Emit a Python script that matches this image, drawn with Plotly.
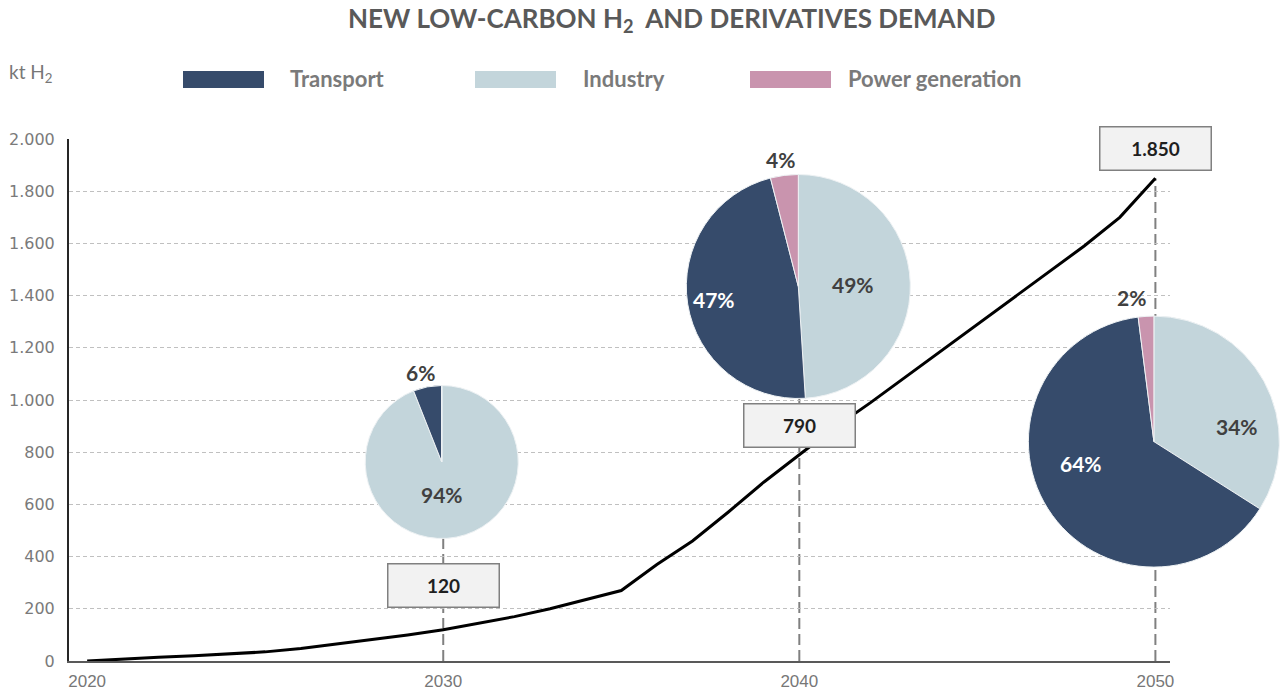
import plotly.graph_objects as go

# ---- data -------------------------------------------------------------
years = list(range(2020, 2051))
demand_kt = [0, 8, 14, 20, 27, 35, 48, 65, 82, 100,
             120, 145, 170, 200, 235, 270, 370, 460, 570, 685,
             790, 895, 990, 1090, 1190, 1290, 1390, 1490, 1590, 1700,
             1850]

segments = ["Industry", "Transport", "Power generation"]
share_years = [2030, 2040, 2050]
industry_share = [94, 49, 34]
transport_share = [6, 47, 64]
power_share = [0, 4, 2]

y_ticks = [0, 200, 400, 600, 800, 1000, 1200, 1400, 1600, 1800, 2000]
y_tick_labels = ["0", "200", "400", "600", "800", "1.000", "1.200",
                 "1.400", "1.600", "1.800", "2.000"]
x_ticks = [2020, 2030, 2040, 2050]
x_tick_labels = ["2020", "2030", "2040", "2050"]

# ---- layout geometry (pixels) ----------------------------------------
W, H = 1280, 697
PLOT_L, PLOT_R, PLOT_T, PLOT_B = 69, 1170, 139, 661
X_RANGE = [2019.49, 2050.41]
Y_RANGE = [0, 2000]

COLORS = {"Transport": "#364b6b", "Industry": "#c3d5db",
          "Power generation": "#c994ae"}
FONT = "Lato, 'Open Sans', sans-serif"
TICK_FONT = "'DejaVu Sans', sans-serif"


def px(x):
    return x / W


def py(y):
    return 1 - y / H


def year_px(year):
    return PLOT_L + (year - X_RANGE[0]) / (X_RANGE[1] - X_RANGE[0]) * (PLOT_R - PLOT_L)


def fmt_thousands(v):
    return f"{v:,}".replace(",", ".")


fig = go.Figure()

# demand curve
fig.add_trace(go.Scatter(
    x=years, y=demand_kt, mode="lines",
    line=dict(color="#000000", width=3),
    hoverinfo="skip", showlegend=False,
))

# pie placement: centre y and radius in pixels, centre x follows the year
pie_geom = [
    dict(cy=462, r=76.5, dx=-1.5),
    dict(cy=286.5, r=112, dx=-1),
    dict(cy=441.6, r=125.5, dx=-1.5),
]
# label offsets from each pie centre (industry, transport, power)
label_offsets = [
    [(0, 32), (-21, -90), None],
    [(55, -2.5), (-84, 12.5), (-18, -127.5)],
    [(83.5, -15.6), (-72.5, 22.4), (-22.5, -143.6)],
]
label_colors = [
    ["#404040", "#404040", "#404040"],
    ["#404040", "#ffffff", "#404040"],
    ["#404040", "#ffffff", "#404040"],
]

shapes = []
annotations = []

for i, yr in enumerate(share_years):
    g = pie_geom[i]
    cx = year_px(yr) + g["dx"]
    cy, r = g["cy"], g["r"]
    vals = [industry_share[i], transport_share[i], power_share[i]]
    fig.add_trace(go.Pie(
        labels=segments, values=vals,
        marker=dict(colors=[COLORS[s] for s in segments],
                    line=dict(color="#eef2f4", width=1)),
        sort=False, direction="clockwise", rotation=0,
        textinfo="none", hoverinfo="label+percent", showlegend=False,
        domain=dict(x=[px(cx - r), px(cx + r)], y=[py(cy + r), py(cy - r)]),
    ))
    for j, v in enumerate(vals):
        off = label_offsets[i][j]
        if v == 0 or off is None:
            continue
        annotations.append(dict(
            x=px(cx + off[0]), y=py(cy + off[1]), xref="paper", yref="paper",
            xanchor="center", yanchor="middle",
            text=f"<b>{v}%</b>", showarrow=False,
            font=dict(family=FONT, size=21, color=label_colors[i][j]),
        ))

    # dashed drop line from the pie / value box down to the axis
    val = demand_kt[years.index(yr)]
    top_paper = py(cy) if yr != 2050 else py(PLOT_B - (val / Y_RANGE[1]) * (PLOT_B - PLOT_T))
    shapes.append(dict(
        type="line", xref="x", yref="paper", x0=yr, x1=yr,
        y0=py(PLOT_B), y1=top_paper,
        line=dict(color="#808080", width=2, dash="11px,5px"), layer="below",
    ))

# value boxes
box_shift = [44, 29, 30]
for i, yr in enumerate(share_years):
    val = demand_kt[years.index(yr)]
    annotations.append(dict(
        x=yr, y=val, xref="x", yref="y", yshift=box_shift[i],
        xanchor="center", yanchor="middle",
        text=f"<b>{fmt_thousands(val)}</b>", showarrow=False,
        font=dict(family=FONT, size=19, color="#1f1f1f"),
        bgcolor="#f2f2f2", bordercolor="#808080", borderwidth=1.5,
        borderpad=2, width=106, height=38, align="center", valign="middle",
    ))

# title and unit
annotations.append(dict(
    x=px(671), y=py(20), xref="paper", yref="paper",
    xanchor="center", yanchor="middle",
    text="<b>NEW LOW-CARBON H<sub>2</sub>  AND DERIVATIVES DEMAND</b>",
    showarrow=False, font=dict(family=FONT, size=26, color="#595959"),
))
annotations.append(dict(
    x=px(7), y=py(73), xref="paper", yref="paper",
    xanchor="left", yanchor="middle",
    text="kt H<sub>2</sub>", showarrow=False,
    font=dict(family=FONT, size=19, color="#777777"),
))

# legend
legend_items = [("Transport", 183, 288), ("Industry", 475, 581),
                ("Power generation", 750, 846)]
for name, x0, tx in legend_items:
    shapes.append(dict(
        type="rect", xref="paper", yref="paper",
        x0=px(x0), x1=px(x0 + 81), y0=py(88), y1=py(71),
        fillcolor=COLORS[name], line=dict(color=COLORS[name], width=0),
    ))
    annotations.append(dict(
        x=px(tx), y=py(79), xref="paper", yref="paper",
        xanchor="left", yanchor="middle",
        text=f"<b>{name}</b>", showarrow=False,
        font=dict(family=FONT, size=22, color="#7a7a7a"),
    ))

fig.update_layout(
    width=W, height=H,
    margin=dict(l=0, r=0, t=0, b=0, pad=0, autoexpand=False),
    paper_bgcolor="#ffffff", plot_bgcolor="#ffffff",
    showlegend=False,
    shapes=shapes, annotations=annotations,
    xaxis=dict(
        domain=[px(PLOT_L), px(PLOT_R)], range=X_RANGE, automargin=False,
        tickvals=x_ticks, ticktext=x_tick_labels,
        showgrid=False, zeroline=False,
        showline=True, linecolor="#595959", linewidth=2,
        ticks="", ticklabelstandoff=4,
        tickfont=dict(family="'Liberation Sans', Arial, sans-serif",
                      size=17, color="#777777"),
    ),
    yaxis=dict(
        domain=[py(PLOT_B), py(PLOT_T)], range=Y_RANGE, automargin=False,
        tickvals=y_ticks, ticktext=y_tick_labels,
        showgrid=True, gridcolor="#c0c0c0", gridwidth=1, griddash="4px,3px",
        zeroline=False,
        showline=True, linecolor="#262626", linewidth=2,
        ticks="", ticklabelstandoff=9,
        tickfont=dict(family=TICK_FONT, size=16, color="#7a7a7a"),
    ),
)

fig.write_html("out.html")
